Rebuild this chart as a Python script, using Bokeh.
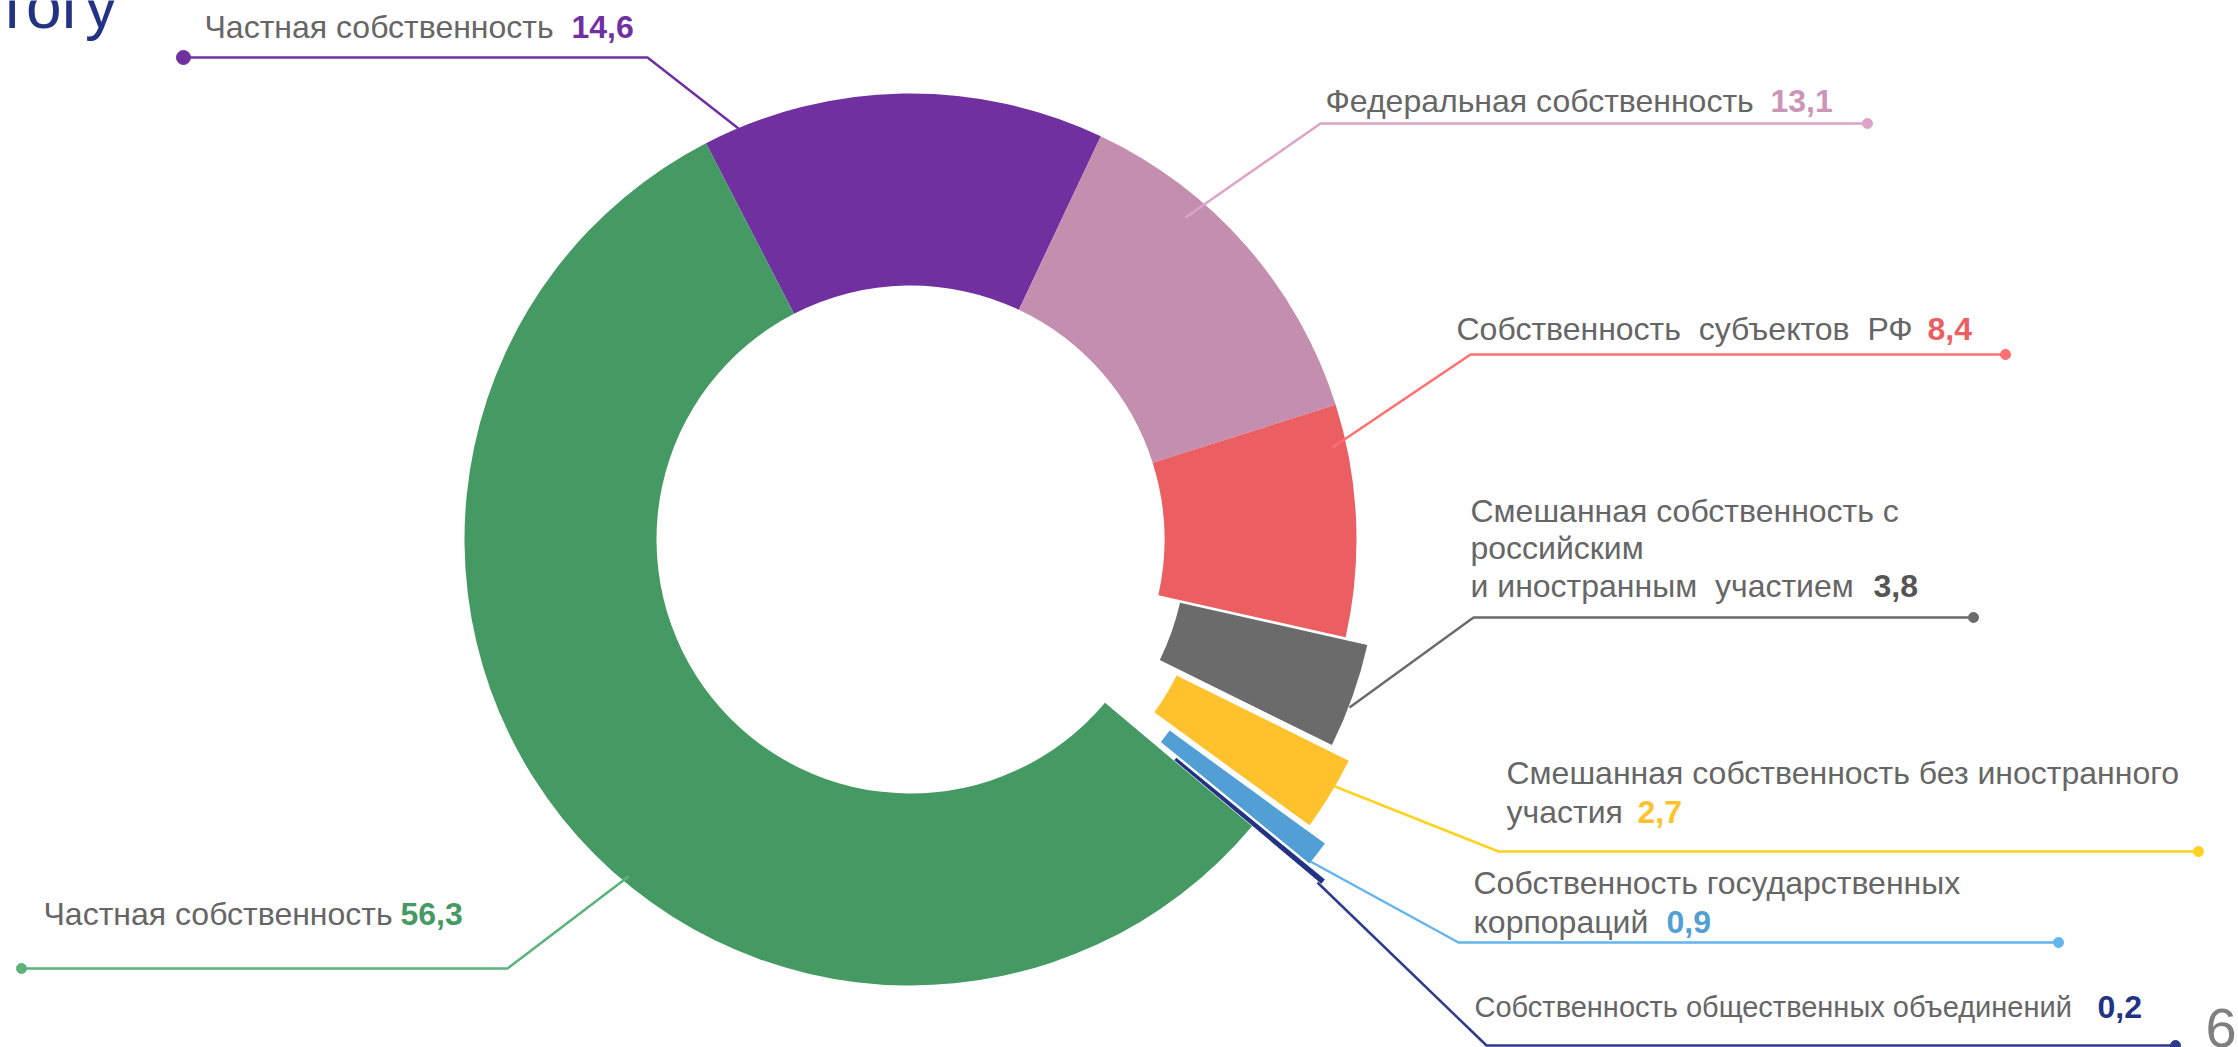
import math
from bokeh.plotting import figure
from bokeh.models import ColumnDataSource, Range1d
from bokeh.core.properties import value
from bokeh.embed import file_html
from bokeh.resources import INLINE

# ---------------- data ----------------
categories = [
    "Частная собственность",
    "Федеральная собственность",
    "Собственность  субъектов  РФ",
    "Смешанная собственность с российским и иностранным участием",
    "Смешанная собственность без иностранного участия",
    "Собственность государственных корпораций",
    "Собственность общественных объединений",
    "Частная собственность",
]
shares = [14.6, 13.1, 8.4, 3.8, 2.7, 0.9, 0.2, 56.3]
NB = "\u00a0"
label_lines = [
    ["Частная собственность"],
    ["Федеральная собственность"],
    ["Собственность" + NB + " субъектов" + NB + " РФ"],
    ["Смешанная собственность с", "российским", "и иностранным" + NB + " участием"],
    ["Смешанная собственность без иностранного", "участия"],
    ["Собственность государственных", "корпораций"],
    ["Собственность общественных объединений"],
    ["Частная собственность"],
]

# ---------------- styles / layout ----------------
slice_colors = ["#7030A0", "#C48EAF", "#EB5E61", "#6B6B6B", "#FFC22C", "#529FD6", "#233383", "#459A64"]
line_colors = ["#7030A0", "#DDA3C9", "#FF6F6F", "#6B6B6B", "#FFD21F", "#63B5EE", "#2E3A8C", "#5BB27A"]
value_colors = ["#7030A0", "#CC95B8", "#EB5E61", "#555555", "#FFC22C", "#529FD6", "#233383", "#459A64"]
explode = [0, 0, 0, 23, 45, 68, 90, 0]
label_size = ["32px", "32px", "32px", "32px", "32px", "32px", "29px", "32px"]

W, H = 2238, 1047
def Y(v):
    return H - v

CX, CY = 910, 539
R_OUT, R_IN = 446, 254
START_DEG = 117.3  # math angle where the first slice starts, going clockwise

# label layout (reference pixel coordinates)
text_x = [204, 1325, 1456, 1470, 1506, 1473, 1474, 43]
text_y = [[26], [100], [328], [510, 547, 585], [772, 811], [882, 921], [1006], [913]]
value_x = [571, 1770, 1927, 1873, 1637, 1666, 2097, 400]
leaders = [
    [(738, 128), (647, 57), (183, 57)],
    [(1185, 217), (1320, 123), (1867, 123)],
    [(1332, 447), (1470, 354), (2005, 354)],
    [(1349, 707), (1473, 617), (1973, 617)],
    [(1332, 785), (1498, 851), (2198, 851)],
    [(1310, 861), (1458, 942), (2058, 942)],
    [(1317, 882), (1486, 1045), (2175, 1045)],
    [(628, 876), (507, 968), (21, 968)],
]
dot_r = [7, 5, 5, 5, 5, 5, 5, 5]

FONT = value("Liberation Sans")

p = figure(width=W, height=H, output_backend="svg", toolbar_location=None,
           x_range=Range1d(0, W), y_range=Range1d(0, H),
           x_axis_type=None, y_axis_type=None, min_border=0)
p.grid.visible = False
p.outline_line_color = None
p.background_fill_color = "white"

# ---------------- donut ----------------
total = sum(shares)
a = START_DEG
xs, ys, sa, ea = [], [], [], []
for v, d in zip(shares, explode):
    span = 360.0 * v / total
    a_end = a - span
    mid = math.radians((a + a_end) / 2)
    xs.append(CX + d * math.cos(mid))
    ys.append(Y(CY) + d * math.sin(mid))
    sa.append(math.radians(a_end))
    ea.append(math.radians(a))
    a = a_end

src = ColumnDataSource(dict(x=xs, y=ys, sa=sa, ea=ea, color=slice_colors, cat=categories, share=shares))
p.annular_wedge(x="x", y="y", inner_radius=R_IN, outer_radius=R_OUT,
                start_angle="sa", end_angle="ea", color="color", line_color=None, source=src)

# ---------------- leader lines ----------------
p.multi_line(xs=[[pt[0] for pt in l] for l in leaders],
             ys=[[Y(pt[1]) for pt in l] for l in leaders],
             line_color=line_colors, line_width=2.5)
p.circle(x=[l[-1][0] for l in leaders], y=[Y(l[-1][1]) for l in leaders],
         radius=dot_r, color=line_colors)

# ---------------- labels ----------------
lx, ly, lt, ls = [], [], [], []
for i, lines in enumerate(label_lines):
    for t, yy in zip(lines, text_y[i]):
        lx.append(text_x[i]); ly.append(Y(yy)); lt.append(t); ls.append(label_size[i])
p.text(x=lx, y=ly, text=lt, text_font=FONT, text_font_size=ls, text_color="#666666",
       text_baseline="middle", text_align="left")

vals = [f"{v:.1f}".replace(".", ",") for v in shares]
p.text(x=value_x, y=[Y(t[-1]) for t in text_y], text=vals, text_font=FONT, text_font_size="32px",
       text_font_style="bold", text_color=value_colors, text_baseline="middle", text_align="left")

# title fragment (cut by the top edge, as in the source slide) and slide number
p.text(x=[-3], y=[Y(5)], text=["тогу"], text_font=FONT, text_font_size="64px",
       text_color="#233383", text_baseline="middle", text_align="left")
p.text(x=[2205], y=[Y(1027)], text=["6"], text_font=FONT, text_font_size="56px",
       text_color="#7F7F7F", text_baseline="middle", text_align="left")

open("out.html", "w").write(file_html(p, INLINE))
